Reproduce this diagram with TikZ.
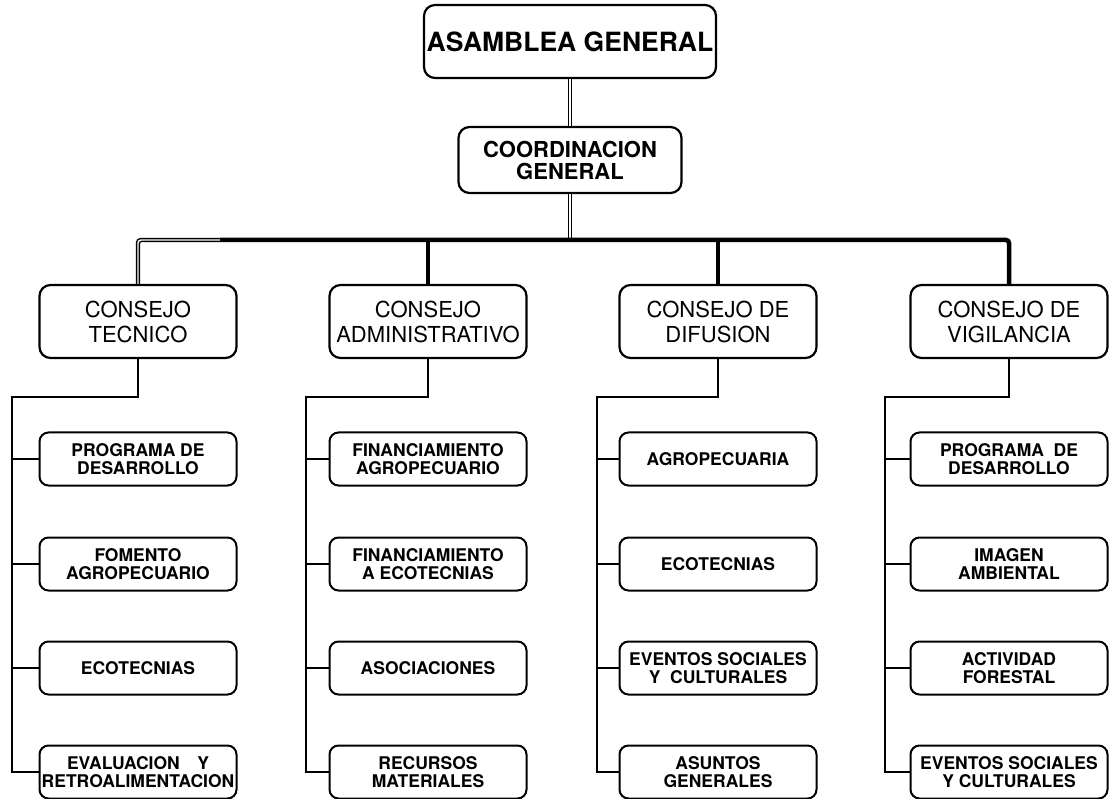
\documentclass[tikz,border=0pt]{standalone}
\usepackage{fontspec}
\setmainfont{TeX Gyre Heros}
\begin{document}
\begin{tikzpicture}[x=1pt,y=-1pt,
  box/.style={draw, line width=2.2pt, rounded corners=11pt, align=center, inner sep=0pt},
  topbox/.style={box, minimum width=292pt, minimum height=73pt, font=\fontsize{26.5}{30}\selectfont\bfseries},
  coordbox/.style={box, minimum width=223pt, minimum height=66pt, font=\fontsize{22}{22}\selectfont\bfseries},
  council/.style={box, minimum width=197pt, minimum height=73pt, font=\fontsize{22}{25}\selectfont},
  child/.style={box, line width=2pt, rounded corners=9pt, minimum width=197pt, minimum height=53pt, font=\fontsize{17.5}{17.5}\selectfont\bfseries},
  link/.style={line width=1.8pt},
  busline/.style={line width=4.5pt},
  dbl/.style={double, double distance=1.4pt, line width=1.5pt}]
\useasboundingbox (0,0) rectangle (1114,799);

% top levels
\node[topbox] (ag) at (570,41.5) {ASAMBLEA GENERAL};
\node[coordbox] (cg) at (570,160) {COORDINACION\\GENERAL};

% councils
\node[council] (ct) at (138,321.5) {CONSEJO\\TECNICO};
\node[council] (ca) at (428,321.5) {CONSEJO\\ADMINISTRATIVO};
\node[council] (cd) at (718,321.5) {CONSEJO DE\\DIFUSION};
\node[council] (cv) at (1009,321.5) {CONSEJO DE\\VIGILANCIA};

% bus
\coordinate (busL) at (220,240);
\draw[dbl] (ag.south) -- (cg.north);
\draw[dbl] (cg.south) -- (cg.south |- busL);
\draw[dbl, rounded corners=3pt] (ct.north) |- (busL);
\draw[busline, rounded corners=3pt] (busL) -| (cv.north);
\draw[busline] (ca.north |- busL) -- (ca.north);
\draw[busline] (cd.north |- busL) -- (cd.north);

% children: tecnico
\node[child] (t1) at (138,459) {PROGRAMA DE\\DESARROLLO};
\node[child] (t2) at (138,564) {FOMENTO\\AGROPECUARIO};
\node[child] (t3) at (138,668) {ECOTECNIAS};
\node[child] (t4) at (138,772) {EVALUACION\quad Y\\RETROALIMENTACION};

% children: administrativo
\node[child] (a1) at (428,459) {FINANCIAMIENTO\\AGROPECUARIO};
\node[child] (a2) at (428,564) {FINANCIAMIENTO\\A ECOTECNIAS};
\node[child] (a3) at (428,668) {ASOCIACIONES};
\node[child] (a4) at (428,772) {RECURSOS\\MATERIALES};

% children: difusion
\node[child] (d1) at (718,459) {AGROPECUARIA};
\node[child] (d2) at (718,564) {ECOTECNIAS};
\node[child] (d3) at (718,668) {EVENTOS SOCIALES\\Y\ \ CULTURALES};
\node[child] (d4) at (718,772) {ASUNTOS\\GENERALES};

% children: vigilancia
\node[child] (v1) at (1009,459) {PROGRAMA\ \ DE\\DESARROLLO};
\node[child] (v2) at (1009,564) {IMAGEN\\AMBIENTAL};
\node[child] (v3) at (1009,668) {ACTIVIDAD\\FORESTAL};
\node[child] (v4) at (1009,772) {EVENTOS SOCIALES\\Y CULTURALES};

% spines
\coordinate (sT) at (12,397);
\coordinate (sA) at (306,397);
\coordinate (sD) at (597,397);
\coordinate (sV) at (885,397);

\draw[link] (ct.south) |- (sT) |- (t4.west);
\draw[link] (sT) |- (t1.west);
\draw[link] (sT) |- (t2.west);
\draw[link] (sT) |- (t3.west);

\draw[link] (ca.south) |- (sA) |- (a4.west);
\draw[link] (sA) |- (a1.west);
\draw[link] (sA) |- (a2.west);
\draw[link] (sA) |- (a3.west);

\draw[link] (cd.south) |- (sD) |- (d4.west);
\draw[link] (sD) |- (d1.west);
\draw[link] (sD) |- (d2.west);
\draw[link] (sD) |- (d3.west);

\draw[link] (cv.south) |- (sV) |- (v4.west);
\draw[link] (sV) |- (v1.west);
\draw[link] (sV) |- (v2.west);
\draw[link] (sV) |- (v3.west);
\end{tikzpicture}
\end{document}
